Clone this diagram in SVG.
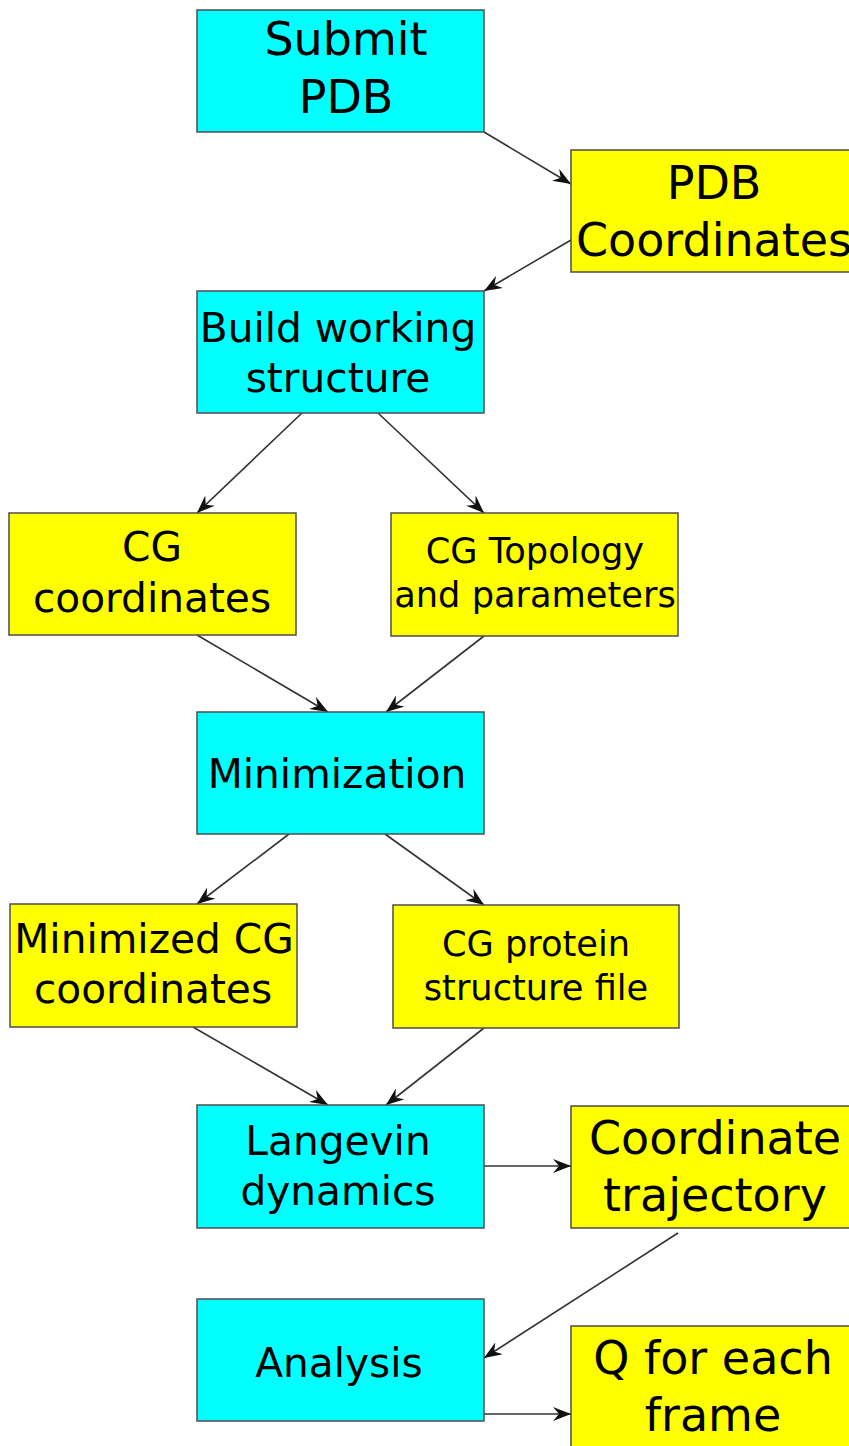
<svg xmlns="http://www.w3.org/2000/svg" width="849" height="1446" viewBox="0 0 849 1446">
<style>
.c{fill:#00ffff;stroke:#4d4d4d;stroke-width:1.5}
.y{fill:#ffff00;stroke:#4d4d4d;stroke-width:1.5}
text{font-family:"DejaVu Sans",sans-serif;fill:#000;text-anchor:middle}
.L{font-size:46px}
.M{font-size:40.7px}
.S{font-size:35.2px}
.e{stroke:#333;stroke-width:1.6;fill:none;marker-end:url(#a)}
</style>
<defs>
<marker id="a" markerUnits="userSpaceOnUse" markerWidth="20" markerHeight="14" refX="18" refY="7" orient="auto">
<path d="M0,0 L18,7 L0,14 L6,7 z" fill="#111"/>
</marker>
</defs>
<rect width="849" height="1446" fill="#fff"/>
<g id="edges">
<line class="e" x1="484" y1="132" x2="571" y2="184"/>
<line class="e" x1="571" y1="240" x2="484" y2="291"/>
<line class="e" x1="302" y1="413" x2="197" y2="513"/>
<line class="e" x1="378" y1="413" x2="484" y2="513"/>
<line class="e" x1="197" y1="635" x2="328" y2="712"/>
<line class="e" x1="484" y1="636" x2="386" y2="712"/>
<line class="e" x1="289" y1="834" x2="197" y2="904"/>
<line class="e" x1="385" y1="834" x2="484" y2="905"/>
<line class="e" x1="193" y1="1027" x2="328" y2="1105"/>
<line class="e" x1="484" y1="1028" x2="386" y2="1105"/>
<line class="e" x1="484" y1="1166" x2="571" y2="1166"/>
<line class="e" x1="678" y1="1233" x2="484" y2="1358"/>
<line class="e" x1="484" y1="1414" x2="571" y2="1414"/>
</g>
<g id="submit"><rect class="c" x="197" y="10" width="287" height="122"/><text class="L" x="346" y="55">Submit</text><text class="L" x="346" y="113">PDB</text></g>
<g id="pdbcoords"><rect class="y" x="571" y="150" width="286" height="122"/><text class="L" x="714" y="199">PDB</text><text class="L" x="714" y="256">Coordinates</text></g>
<g id="build"><rect class="c" x="197" y="291" width="287" height="122"/><text class="M" x="338" y="342">Build working</text><text class="M" x="338" y="392">structure</text></g>
<g id="cgcoords"><rect class="y" x="9" y="513" width="287" height="122"/><text class="M" x="152" y="561">CG</text><text class="M" x="152" y="612">coordinates</text></g>
<g id="cgtopo"><rect class="y" x="391" y="513" width="287" height="123"/><text class="S" x="535" y="563">CG Topology</text><text class="S" x="535" y="607">and parameters</text></g>
<g id="minimization"><rect class="c" x="197" y="712" width="287" height="122"/><text class="M" x="337" y="788">Minimization</text></g>
<g id="mincg"><rect class="y" x="10" y="904" width="287" height="123"/><text class="M" x="154" y="953">Minimized CG</text><text class="M" x="153" y="1003">coordinates</text></g>
<g id="psf"><rect class="y" x="393" y="905" width="286" height="123"/><text class="S" x="536" y="956">CG protein</text><text class="S" x="536" y="1000">structure file</text></g>
<g id="langevin"><rect class="c" x="197" y="1105" width="287" height="123"/><text class="M" x="338" y="1155">Langevin</text><text class="M" x="338" y="1205">dynamics</text></g>
<g id="trajectory"><rect class="y" x="571" y="1106" width="286" height="122"/><text class="L" x="715" y="1154">Coordinate</text><text class="L" x="715" y="1211">trajectory</text></g>
<g id="analysis"><rect class="c" x="197" y="1299" width="287" height="122"/><text class="M" x="339" y="1377">Analysis</text></g>
<g id="qframe"><rect class="y" x="571" y="1326" width="286" height="124"/><text class="L" x="713" y="1374">Q for each</text><text class="L" x="713" y="1431">frame</text></g>
</svg>
